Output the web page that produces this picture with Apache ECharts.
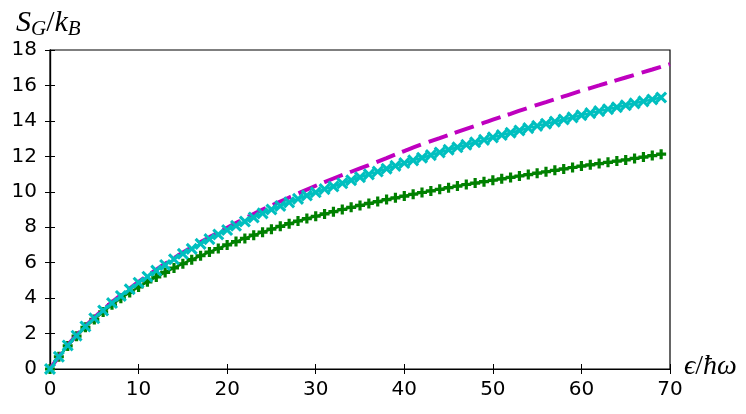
<!DOCTYPE html>
<html>
<head>
<meta charset="utf-8">
<script src="https://cdn.jsdelivr.net/npm/echarts@6/dist/echarts.min.js"></script>
<style>
  html, body { margin: 0; padding: 0; background: #fff; }
  #chart { width: 746px; height: 414px; }
</style>
</head>
<body>
<div id="chart"></div>
<script>
// energy values (epsilon / hbar omega) where the markers sit
var xsMarked = [0, 1, 2, 3, 4, 5, 6, 7, 8, 9, 10, 11, 12, 13, 14, 15, 16, 17, 18, 19,
  20, 21, 22, 23, 24, 25, 26, 27, 28, 29, 30, 31, 32, 33, 34, 35, 36, 37, 38, 39,
  40, 41, 42, 43, 44, 45, 46, 47, 48, 49, 50, 51, 52, 53, 54, 55, 56, 57, 58, 59,
  60, 61, 62, 63, 64, 65, 66, 67, 68, 69];

// cyan x markers
var cyanVals = [0, 0.69, 1.33, 1.88, 2.40, 2.86, 3.30, 3.72, 4.12, 4.50,
  4.87, 5.21, 5.55, 5.87, 6.19, 6.50, 6.78, 7.06, 7.33, 7.59,
  7.84, 8.08, 8.32, 8.55, 8.78, 9.00, 9.20, 9.40, 9.60, 9.79,
  9.97, 10.15, 10.30, 10.48, 10.65, 10.82, 10.98, 11.14, 11.30, 11.46,
  11.62, 11.77, 11.92, 12.07, 12.22, 12.37, 12.51, 12.65, 12.79, 12.93,
  13.07, 13.20, 13.33, 13.46, 13.59, 13.72, 13.84, 13.96, 14.08, 14.20,
  14.32, 14.44, 14.55, 14.66, 14.77, 14.88, 14.99, 15.10, 15.21, 15.32];

// green + markers
var greenVals = [0, 0.69, 1.30, 1.85, 2.35, 2.80, 3.22, 3.62, 3.99, 4.32,
  4.63, 4.92, 5.19, 5.45, 5.70, 5.94, 6.17, 6.39, 6.60, 6.80,
  7.00, 7.19, 7.37, 7.55, 7.72, 7.89, 8.05, 8.20, 8.35, 8.49,
  8.62, 8.75, 8.88, 9.00, 9.12, 9.23, 9.34, 9.45, 9.56, 9.66,
  9.76, 9.86, 9.96, 10.05, 10.14, 10.23, 10.32, 10.41, 10.49, 10.57,
  10.65, 10.73, 10.81, 10.89, 10.97, 11.05, 11.13, 11.21, 11.29, 11.37,
  11.45, 11.52, 11.59, 11.66, 11.73, 11.80, 11.88, 11.96, 12.04, 12.12];

// magenta dashed curve
var xsDashed = [0, 1, 2, 3, 4, 5, 6, 7, 8, 9, 10, 11, 12, 13, 14, 15, 16, 17, 18, 19,
  20, 22, 24, 26, 28, 30, 32, 34, 36, 38, 40, 42, 44, 46, 48, 50,
  52, 54, 56, 58, 60, 62, 64, 66, 68, 70];
var magentaVals = [0, 0.70, 1.34, 1.90, 2.42, 2.90, 3.35, 3.77, 4.17, 4.55,
  4.92, 5.27, 5.61, 5.94, 6.26, 6.57, 6.87, 7.16, 7.44, 7.71,
  7.97, 8.50, 9.00, 9.45, 9.90, 10.34, 10.75, 11.13, 11.51, 11.90,
  12.30, 12.68, 13.03, 13.38, 13.72, 14.07, 14.40, 14.74, 15.06, 15.38,
  15.70, 16.00, 16.30, 16.60, 16.90, 17.20];

var xTicks = [0, 10, 20, 30, 40, 50, 60, 70];
var yTicks = [0, 2, 4, 6, 8, 10, 12, 14, 16, 18];

function pairs(xs, ys) {
  return xs.map(function (x, i) { return [x, ys[i]]; });
}

var plusPath = 'path://M3.4,0H6.6V3.4H10V6.6H6.6V10H3.4V6.6H0V3.4H3.4Z';
var crossPath = 'path://M3.9,0H6.1V3.9H10V6.1H6.1V10H3.9V6.1H0V3.9H3.9Z';

var chart = echarts.init(document.getElementById('chart'));

var tickFont = { color: '#000', fontSize: 20, fontFamily: 'DejaVu Sans' };
var mathFont = 'Liberation Serif';

var option = {
  animation: false,
  backgroundColor: '#fff',
  title: [{
    left: 11, top: 2,
    text: '{i|S}{s|G}{n|/}{i|k}{s|B}',
    textStyle: {
      fontWeight: 'normal',
      rich: {
        i: { fontFamily: mathFont, fontStyle: 'italic', fontWeight: 'normal', fontSize: 30, color: '#000' },
        s: { fontFamily: mathFont, fontStyle: 'italic', fontWeight: 'normal', fontSize: 21, color: '#000', verticalAlign: 'bottom', padding: [12, 0, 0, 0] },
        n: { fontFamily: mathFont, fontWeight: 'normal', fontSize: 30, color: '#000' }
      }
    }
  }, {
    left: 679, top: 348,
    text: '{i|\u03f5}{n|/}{i|\u0127\u03c9}',
    textStyle: {
      fontWeight: 'normal',
      rich: {
        i: { fontFamily: mathFont, fontStyle: 'italic', fontWeight: 'normal', fontSize: 28, color: '#000' },
        n: { fontFamily: mathFont, fontWeight: 'normal', fontSize: 28, color: '#000' }
      }
    }
  }],
  grid: {
    left: 50, right: 76, top: 50, bottom: 45,
    show: true, borderColor: '#000', borderWidth: 1.2, backgroundColor: 'transparent'
  },
  xAxis: [{
    type: 'value', min: xTicks[0], max: xTicks[xTicks.length - 1], interval: 10,
    position: 'bottom',
    axisLine: { show: true, lineStyle: { color: '#000', width: 1.2 } },
    axisTick: { show: true, inside: true, length: 5, lineStyle: { color: '#000' } },
    axisLabel: Object.assign({ margin: 11 }, tickFont),
    splitLine: { show: false }
  }, {
    type: 'value', min: xTicks[0], max: xTicks[xTicks.length - 1], interval: 10,
    position: 'top',
    axisLine: { show: true, lineStyle: { color: '#000', width: 1.2 } },
    axisTick: { show: true, inside: true, length: 5, lineStyle: { color: '#000' } },
    axisLabel: { show: false },
    splitLine: { show: false }
  }],
  yAxis: [{
    type: 'value', min: yTicks[0], max: yTicks[yTicks.length - 1], interval: 2,
    position: 'left',
    axisLine: { show: true, lineStyle: { color: '#000', width: 1.2 } },
    axisTick: { show: true, inside: true, length: 5, lineStyle: { color: '#000' } },
    axisLabel: Object.assign({ margin: 13 }, tickFont),
    splitLine: { show: false }
  }, {
    type: 'value', min: yTicks[0], max: yTicks[yTicks.length - 1], interval: 2,
    position: 'right',
    axisLine: { show: true, lineStyle: { color: '#000', width: 1.2 } },
    axisTick: { show: true, inside: true, length: 5, lineStyle: { color: '#000' } },
    axisLabel: { show: false },
    splitLine: { show: false }
  }],
  series: [{
    name: 'green',
    type: 'line',
    data: pairs(xsMarked, greenVals),
    symbol: plusPath,
    symbolSize: 10,
    showAllSymbol: true,
    itemStyle: { color: '#008000' },
    lineStyle: { color: '#008000', width: 2.5 },
    z: 2
  }, {
    name: 'magenta',
    type: 'line',
    data: pairs(xsDashed, magentaVals),
    smooth: true,
    showSymbol: false,
    lineStyle: { color: '#bf00bf', width: 4, type: [20, 8] },
    z: 3
  }, {
    name: 'cyan',
    type: 'line',
    data: pairs(xsMarked, cyanVals),
    symbol: crossPath,
    symbolSize: 14,
    symbolRotate: 45,
    showAllSymbol: true,
    itemStyle: { color: '#00bfbf' },
    lineStyle: { color: '#00bfbf', width: 2.5 },
    z: 4
  }]
};

chart.setOption(option);
</script>
</body>
</html>
